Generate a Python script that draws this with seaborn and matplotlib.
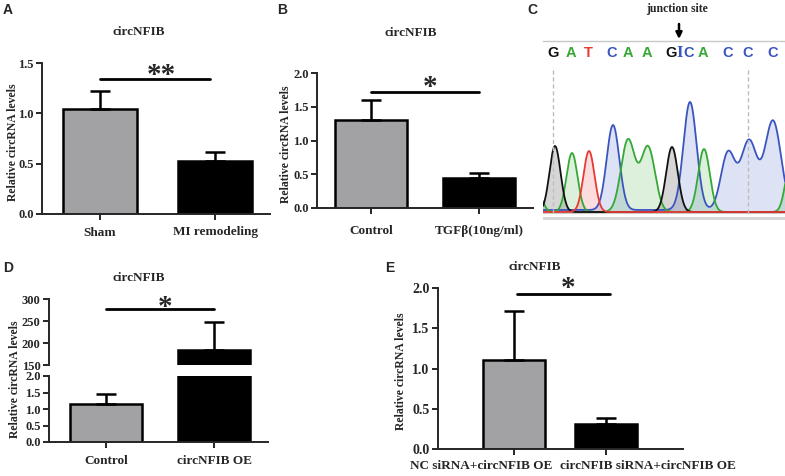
import numpy as np
import pandas as pd
import matplotlib
matplotlib.use('Agg')
import matplotlib.pyplot as plt
import matplotlib.transforms as mtransforms
import seaborn as sns

# ---- data ----
a_groups = ['Sham', 'MI remodeling']
a_means = [1.04, 0.53]
a_tops = [1.22, 0.62]

b_groups = ['Control', 'TGFβ(10ng/ml)']
b_means = [1.30, 0.45]
b_tops = [1.60, 0.52]

d_groups = ['Control', 'circNFIB OE']
d_means = [1.15, 184.0]
d_tops = [1.45, 248.0]

e_groups = ['NC siRNA+circNFIB OE', 'circNFIB siRNA+circNFIB OE']
e_means = [1.10, 0.31]
e_tops = [1.71, 0.39]

# sanger trace (panel C): called bases and peaks (scan position, height, width)
bases = ['G', 'A', 'T', 'C', 'A', 'A', 'G', 'C', 'A', 'C', 'C', 'C']
base_pos = [10, 28, 45, 69, 85, 104, 128, 146, 160, 185, 205, 230]
junction_pos = 137
peak_base = ['A', 'G', 'A', 'T', 'C', 'A', 'A', 'G', 'C', 'A', 'C', 'C', 'C', 'A']
peak_pos = [-6, 12, 29, 46, 70, 85, 105, 129, 147, 161, 185, 206, 230, 247]
peak_height = [22, 66, 59, 61, 85, 72, 65, 65, 108, 63, 57, 69, 89, 45]
peak_width = [5, 5.5, 5.5, 5.5, 6.3, 7, 7, 5.8, 6.6, 5.8, 7, 8, 8, 5]

gray = '#a2a2a4'
base_colors = {'G': '#111111', 'A': '#35a835', 'T': '#e53b33', 'C': '#3b55bf'}

sns.set_style('ticks')
plt.rcParams['font.family'] = ['Liberation Serif', 'DejaVu Serif']
plt.rcParams['font.weight'] = 'bold'

W, H = 785, 476
fig = plt.figure(figsize=(W / 100, H / 100), dpi=100)


def add_ax(l, t, r, b):
    return fig.add_axes([l / W, 1 - b / H, (r - l) / W, (b - t) / H])


def ftext(x, y, s, **kw):
    fig.text(x / W, 1 - y / H, s, **kw)


def bar_panel(ax, groups, means, tops, width):
    df = pd.DataFrame({'group': groups, 'value': means})
    sns.barplot(data=df, x='group', y='value', hue='group', palette=[gray, 'black'],
                edgecolor='black', linewidth=1.8, width=width, legend=False, ax=ax)
    errs = np.array(tops) - np.array(means)
    ax.errorbar(range(len(groups)), means, yerr=[np.zeros(len(errs)), errs], fmt='none',
                ecolor='black', elinewidth=1.8, capsize=7, capthick=1.8, zorder=1)
    sns.despine(ax=ax)
    for s in ['left', 'bottom']:
        ax.spines[s].set_linewidth(1.4)
    ax.tick_params(width=1.4, length=4, labelsize=9, pad=2)
    ax.set_xlabel('')
    ax.set_ylabel('')


def yfmt(ax, ticks, fmt='{:.1f}'):
    ax.set_yticks(ticks)
    ax.set_yticklabels([fmt.format(t) for t in ticks], fontweight='bold')


def sig(ax, x0, x1, y, ystar, s, size=21):
    ax.plot([x0, x1], [y, y], color='black', lw=2, clip_on=False)
    ax.text((x0 + x1) / 2 + 0.05, ystar, s, ha='center', va='center', fontsize=size,
            fontweight='bold', clip_on=False)


# ---- A ----
axA = add_ax(42, 63, 270, 214)
bar_panel(axA, a_groups, a_means, a_tops, 0.65)
axA.set_xlim(-0.504, 1.478)
axA.set_ylim(0, 1.5)
yfmt(axA, [0, 0.5, 1.0, 1.5])
axA.set_xticks([0, 1])
axA.set_xticklabels(a_groups, fontsize=9.5, fontweight='bold')
axA.tick_params(axis='x', pad=5)
sig(axA, 0, 0.96, 1.34, 1.38, '**')
ftext(139, 32, 'circNFIB', ha='center', va='center', fontsize=9.5)
ftext(13, 142, 'Relative circRNA levels', rotation=90, ha='center', va='center', fontsize=8.5)

# ---- B ----
axB = add_ax(317, 73, 533, 208)
bar_panel(axB, b_groups, b_means, b_tops, 0.667)
axB.set_xlim(-0.5, 1.5)
axB.set_ylim(0, 2.0)
yfmt(axB, [0, 0.5, 1.0, 1.5, 2.0])
axB.set_xticks([0, 1])
axB.set_xticklabels(b_groups, fontsize=9.5, fontweight='bold')
axB.tick_params(axis='x', pad=8)
sig(axB, 0, 1, 1.72, 1.78, '*')
ftext(411, 33, 'circNFIB', ha='center', va='center', fontsize=9.5)
ftext(286, 144, 'Relative circRNA levels', rotation=90, ha='center', va='center', fontsize=8.5)

# ---- D (broken axis) ----
axDt = add_ax(49, 299, 268, 365)
axDb = add_ax(49, 376, 268, 442)
for ax in (axDt, axDb):
    bar_panel(ax, d_groups, d_means, d_tops, 0.667)
    ax.set_xlim(-0.528, 1.5)
axDt.set_ylim(150, 300)
yfmt(axDt, [150, 200, 250, 300], '{:.0f}')
axDt.spines['bottom'].set_visible(False)
axDt.tick_params(axis='x', bottom=False, labelbottom=False)
axDb.set_ylim(0, 2.0)
yfmt(axDb, [0, 0.5, 1.0, 1.5, 2.0])
axDb.set_xticks([0, 1])
axDb.set_xticklabels(d_groups, fontsize=9.5, fontweight='bold')
axDb.tick_params(axis='x', pad=5)
sig(axDt, 0, 1, 277, 281, '*')
ftext(139, 278, 'circNFIB', ha='center', va='center', fontsize=9.5)
ftext(15, 379, 'Relative circRNA levels', rotation=90, ha='center', va='center', fontsize=8.5)

# ---- E ----
axE = add_ax(438, 288, 683, 449)
bar_panel(axE, e_groups, e_means, e_tops, 0.67)
axE.set_xlim(-0.826, 1.837)
axE.set_ylim(0, 2.0)
yfmt(axE, [0, 0.5, 1.0, 1.5, 2.0])
axE.tick_params(axis='y', labelsize=10)
axE.set_xticks([0, 1])
axE.set_xticklabels(['', ''])
tr = mtransforms.blended_transform_factory(axE.transData, axE.transAxes)
for x, lab in zip([-0.36, 1.46], e_groups):
    axE.text(x, -0.105, lab, transform=tr, ha='center', va='center', fontsize=9.5,
             fontweight='bold')
sig(axE, 0.03, 1.04, 1.93, 2.0, '*')
ftext(535, 267, 'circNFIB', ha='center', va='center', fontsize=9.5)
ftext(401, 371, 'Relative circRNA levels', rotation=90, ha='center', va='center', fontsize=8.5)

# ---- C (chromatogram) ----
axC = add_ax(543, 41, 785, 220)
xs = np.linspace(-10, 250, 1200)
order = ['C', 'A', 'G', 'T']
for b in order:
    y = np.zeros_like(xs) + (3 if b == 'C' else 1)
    for pb, p, h, w in zip(peak_base, peak_pos, peak_height, peak_width):
        if pb == b:
            y = y + h * np.exp(-(xs - p) ** 2 / (2 * w ** 2))
    axC.fill_between(xs, 0, y, color=base_colors[b], alpha=0.17, lw=0)
    axC.plot(xs, y, color=base_colors[b], lw=1.3)
axC.vlines([base_pos[0], base_pos[10]], 0, 146, colors='#bdbdbd', linestyles=(0, (3, 2)), lw=1)
axC.axhline(-5, color='#d4d4d4', lw=2)
for b, p in zip(bases, base_pos):
    axC.text(p, 160, b, ha='center', va='center', color=base_colors[b], fontsize=10.5,
             family=['Liberation Sans', 'DejaVu Sans'], fontweight='bold')
axC.text(junction_pos, 160, 'I', ha='center', va='center', color=base_colors['C'],
         fontsize=12, fontweight='bold')
axC.set_xlim(0, 242)
axC.set_ylim(-7, 172)
axC.set_xticks([])
axC.set_yticks([])
for s in ['left', 'right', 'bottom']:
    axC.spines[s].set_visible(False)
axC.spines['top'].set_color('#c8c8c8')
axC.spines['top'].set_linewidth(1)
ftext(677, 9, 'junction site', ha='center', va='center', fontsize=8.5)
axC.annotate('', xy=(679, H - 39), xytext=(679, H - 24), xycoords='figure pixels',
             textcoords='figure pixels',
             arrowprops=dict(arrowstyle='-|>', color='black', lw=1.8, mutation_scale=9,
                             shrinkA=0, shrinkB=0))

# panel letters
for lab, x, y in [('A', 8, 10), ('B', 282, 10), ('C', 532, 10), ('D', 8, 268), ('E', 390, 268)]:
    ftext(x, y, lab, ha='center', va='center', fontsize=10, fontweight='bold',
          family=['Liberation Sans', 'DejaVu Sans'])

fig.savefig('out.png', dpi=100)
